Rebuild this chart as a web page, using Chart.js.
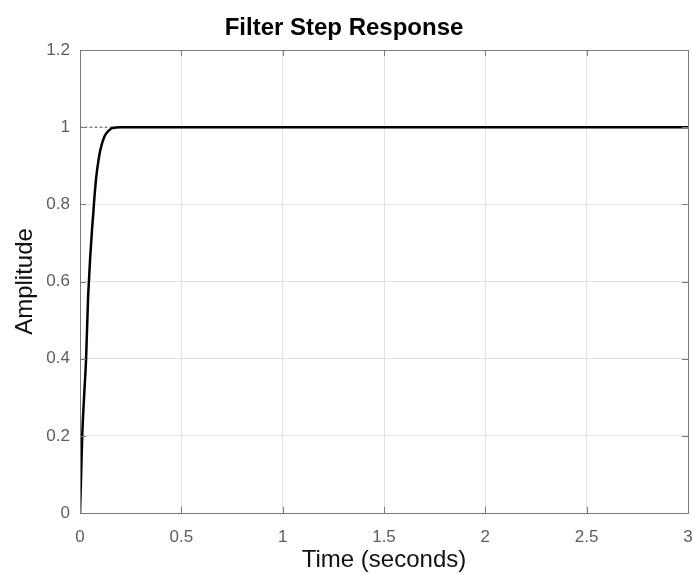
<!DOCTYPE html>
<html>
<head>
<meta charset="utf-8">
<script src="https://cdn.jsdelivr.net/npm/chart.js@4"></script>
<style>
  html, body { margin: 0; padding: 0; background: #fff; }
  #wrap { width: 692px; height: 575px; }
</style>
</head>
<body>
<div id="wrap"><canvas id="myChart" width="692" height="575"></canvas></div>
<script>
// step response
const timeValues = [0, 0.005, 0.011, 0.02, 0.03, 0.04, 0.044, 0.05, 0.06, 0.066, 0.07, 0.08, 0.09, 0.1, 0.12, 0.14, 0.16, 0.2, 0.25, 3];
const ampValues  = [0, 0.09, 0.2, 0.3, 0.4, 0.56, 0.6, 0.66, 0.74, 0.78, 0.81, 0.87, 0.91, 0.94, 0.975, 0.99, 0.998, 1, 1, 1];

// steady-state dotted marker
const steadyTime = [0, 0.17];
const steadyAmp = [1, 1];

const xTicks = [0, 0.5, 1, 1.5, 2, 2.5, 3];
const yTicks = [0, 0.2, 0.4, 0.6, 0.8, 1, 1.2];

const fontName = "'Liberation Sans', Arial, Helvetica, sans-serif";

function toPoints(xs, ys) {
    const pts = [];
    for (let i = 0; i < xs.length; i++) {
        pts.push({ x: xs[i], y: ys[i] });
    }
    return pts;
}

const frame = {
    id: 'frame',
    afterDatasetsDraw(chart) {
        const ctx = chart.ctx;
        const a = chart.chartArea;
        const xs = chart.scales.x;
        const ys = chart.scales.y;
        ctx.save();
        ctx.strokeStyle = '#7a7a7a';
        ctx.lineWidth = 1;
        ctx.beginPath();
        // inward tick marks, like matlab
        xTicks.forEach(v => {
            const px = Math.round(xs.getPixelForValue(v)) + 0.5;
            ctx.moveTo(px, a.bottom); ctx.lineTo(px, a.bottom - 6);
            ctx.moveTo(px, a.top); ctx.lineTo(px, a.top + 6);
        });
        yTicks.forEach(v => {
            const py = Math.round(ys.getPixelForValue(v)) + 0.5;
            ctx.moveTo(a.left, py); ctx.lineTo(a.left + 6, py);
            ctx.moveTo(a.right, py); ctx.lineTo(a.right - 6, py);
        });
        ctx.stroke();
        ctx.strokeRect(Math.round(a.left) + 0.5, Math.round(a.top) + 0.5,
                       Math.round(a.right - a.left), Math.round(a.bottom - a.top));
        ctx.restore();
    }
};

const ctx = document.getElementById('myChart').getContext('2d');
const myChart = new Chart(ctx, {
    type: 'line',
    data: {
        datasets: [{
            label: 'step',
            data: toPoints(timeValues, ampValues),
            borderColor: '#000000',
            borderWidth: 2.5,
            pointRadius: 0,
            cubicInterpolationMode: 'monotone',
            fill: false
        }, {
            label: 'steady',
            data: toPoints(steadyTime, steadyAmp),
            borderColor: '#444444',
            borderWidth: 1,
            borderDash: [2, 3],
            pointRadius: 0,
            fill: false
        }]
    },
    options: {
        responsive: false,
        animation: false,
        layout: { padding: { left: 0, right: 4, top: 0, bottom: 0 } },
        plugins: {
            legend: { display: false },
            tooltip: { enabled: false },
            title: {
                display: true,
                text: 'Filter Step Response',
                color: '#000',
                font: { family: fontName, size: 24, weight: 'bold' },
                padding: { top: 14, bottom: 7.2 }
            }
        },
        scales: {
            x: {
                type: 'linear',
                min: 0,
                max: 3,
                afterBuildTicks: s => { s.ticks = xTicks.map(v => ({ value: v })); },
                afterFit: s => { s.height = 62; s.paddingLeft = 0; s.paddingRight = 0; },
                ticks: {
                    color: '#5e5e5e',
                    font: { family: fontName, size: 17 },
                    padding: 14,
                    maxRotation: 0,
                    callback: v => String(v)
                },
                grid: { color: '#e2e2e2', drawTicks: false },
                border: { display: false },
                title: {
                    display: true,
                    text: 'Time (seconds)',
                    color: '#111',
                    font: { family: fontName, size: 24 },
                    padding: { top: 0, bottom: 0 }
                }
            },
            y: {
                type: 'linear',
                min: 0,
                max: 1.2,
                afterBuildTicks: s => { s.ticks = yTicks.map(v => ({ value: v })); },
                afterFit: s => { s.width = 80; s.paddingTop = 0; s.paddingBottom = 0; },
                ticks: {
                    color: '#5e5e5e',
                    font: { family: fontName, size: 17 },
                    padding: 10,
                    callback: v => String(v)
                },
                grid: { color: '#e2e2e2', drawTicks: false },
                border: { display: false },
                title: {
                    display: true,
                    text: 'Amplitude',
                    color: '#111',
                    font: { family: fontName, size: 24 },
                    padding: { top: 11, bottom: 0 }
                }
            }
        }
    },
    plugins: [frame]
});
</script>
</body>
</html>
